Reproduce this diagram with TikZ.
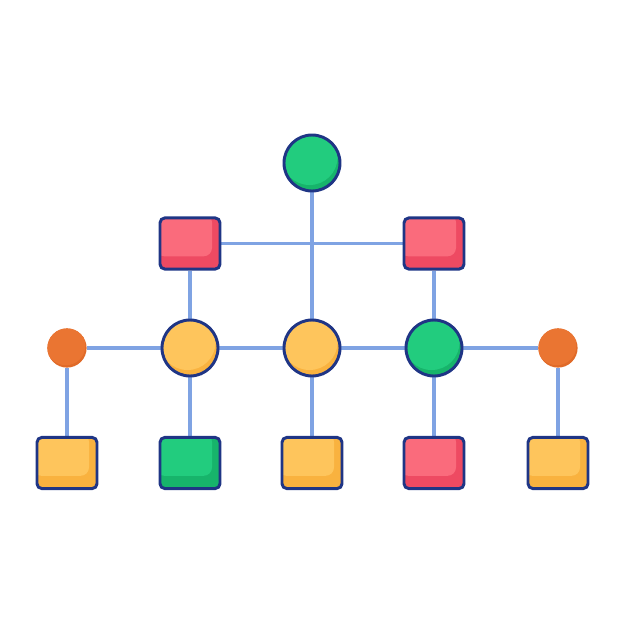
\documentclass[tikz,border=0pt]{standalone}
\usepackage{tikz}
\usetikzlibrary{backgrounds}

\definecolor{navy}{HTML}{1F3585}
\definecolor{linkblue}{HTML}{7FA3E3}
\definecolor{grnL}{HTML}{22CC7E}
\definecolor{grnD}{HTML}{17B46B}
\definecolor{redL}{HTML}{FA6B7C}
\definecolor{redD}{HTML}{EE4A62}
\definecolor{ylwL}{HTML}{FEC55C}
\definecolor{ylwD}{HTML}{F9B23F}
\definecolor{orgL}{HTML}{EA7532}
\definecolor{orgD}{HTML}{E06A28}

\begin{document}
\begin{tikzpicture}[x=0.025cm, y=-0.025cm,
	hub/.style={circle, draw=navy, line width=2.1pt, minimum size=1.4cm, inner sep=0pt, fill=#1D,
		path picture={\fill[#1L] ([shift={(-0.06cm,0.15cm)}]path picture bounding box.center) circle (0.7cm);}},
	box/.style={rectangle, rounded corners=3.5pt, draw=navy, line width=2.1pt, minimum width=1.5cm, minimum height=1.28cm, inner sep=0pt, fill=#1D,
		path picture={\fill[#1L, rounded corners=6pt] ([shift={(-0.1cm,0.1cm)}]path picture bounding box.north west) rectangle ([shift={(-0.2cm,0.32cm)}]path picture bounding box.south east);}},
	dot/.style={circle, minimum size=0.98cm, inner sep=0pt, fill=orgD,
		path picture={\fill[orgL] ([shift={(-0.03cm,0.06cm)}]path picture bounding box.center) circle (0.49cm);}},
	link/.style={linkblue, line width=2.8pt}]
	\useasboundingbox (0,0) rectangle (626,626);
	% top and second row
	\node[hub=grn] (top) at (312,163) {};
	\node[box=red] (r1) at (190,243.5) {};
	\node[box=red] (r2) at (434,243.5) {};
	% middle row
	\node[dot] (o1) at (67,348) {};
	\node[hub=ylw] (m1) at (190,348) {};
	\node[hub=ylw] (m2) at (312,348) {};
	\node[hub=grn] (m3) at (434,348) {};
	\node[dot] (o2) at (558,348) {};
	% bottom row
	\node[box=ylw] (b1) at (67,463) {};
	\node[box=grn] (b2) at (190,463) {};
	\node[box=ylw] (b3) at (312,463) {};
	\node[box=red] (b4) at (434,463) {};
	\node[box=ylw] (b5) at (558,463) {};
	\begin{scope}[on background layer]
		\draw[link] (r1) -- (r2);
		\draw[link] (top) -- (m2);
		\foreach \a/\b in {o1/m1, m1/m2, m2/m3, m3/o2, r1/m1, r2/m3, o1/b1, m1/b2, m2/b3, m3/b4, o2/b5} {\draw[link] (\a) -- (\b);}
	\end{scope}
\end{tikzpicture}
\end{document}
